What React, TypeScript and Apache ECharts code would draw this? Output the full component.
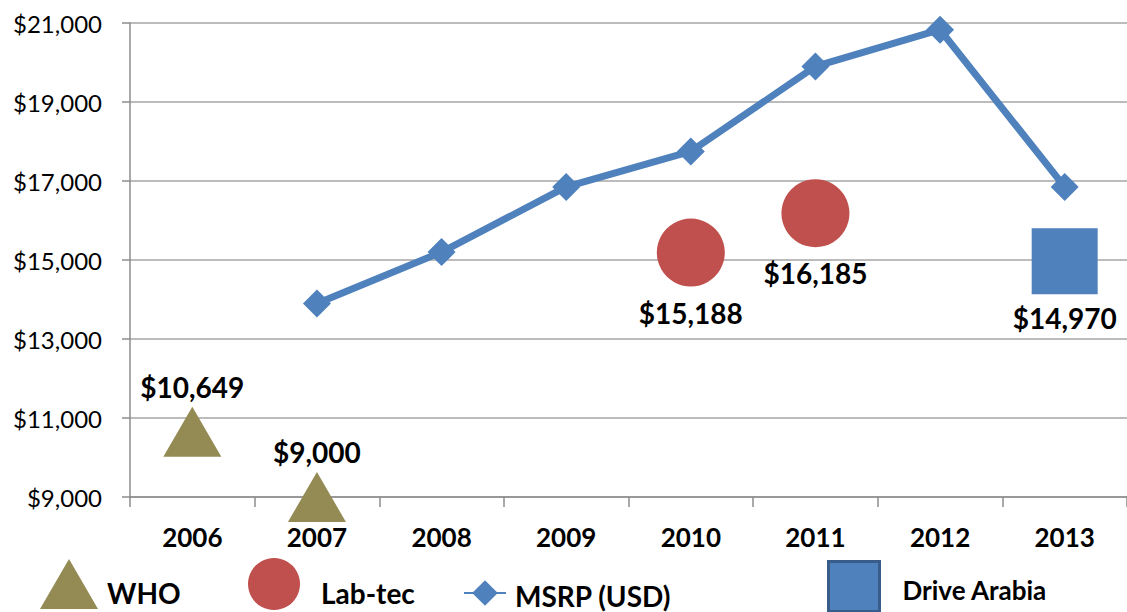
import React, { useEffect, useRef } from "react";
import * as echarts from "echarts";

const years = ["2006", "2007", "2008", "2009", "2010", "2011", "2012", "2013"];
const msrp = [null, 13900, 15200, 16850, 17750, 19900, 20830, 16850];
const who = [10649, 9000, null, null, null, null, null, null];
const labtec = [null, null, null, null, 15188, 16185, null, null];
const driveArabia = [null, null, null, null, null, null, null, 14970];
const yTicks = { min: 9000, max: 21000, interval: 2000 };

const FONT = "Lato, 'Open Sans', sans-serif";
const fmt = (v: number) => "$" + v.toLocaleString("en-US");

export default function App() {
  const ref = useRef<HTMLDivElement>(null);
  useEffect(() => {
    if (!ref.current) return;
    const chart = echarts.init(ref.current, null, { renderer: "svg" });
    const dataLabel = (pos: string, dist: number) => ({
      show: true,
      position: pos,
      distance: dist,
      color: "#000",
      fontFamily: FONT,
      fontWeight: "bold",
      fontSize: 28,
      formatter: (p: any) => fmt(p.value),
    });
    // text is pushed down by lineHeight/2 through an empty first line
    const legendText = (size: number, shiftLH: number, padLeft: number) => ({
      color: "#000",
      fontFamily: FONT,
      fontWeight: "bold",
      fontSize: size,
      lineHeight: shiftLH,
      padding: [0, 0, 0, padLeft],
    });
    const lower = (name: string) => "\n" + name;
    chart.setOption({
      animation: false,
      backgroundColor: "#fff",
      grid: { left: 130, top: 23, width: 1004, height: 474 },
      xAxis: {
        type: "category",
        data: years,
        boundaryGap: true,
        axisLine: { show: true, lineStyle: { color: "#8c8c8c", width: 1.5 } },
        axisTick: { show: true, length: 10, lineStyle: { color: "#8c8c8c", width: 1.5 } },
        axisLabel: {
          color: "#000",
          fontFamily: FONT,
          fontWeight: "bold",
          fontSize: 26,
          margin: 27,
        },
        splitLine: { show: false },
      },
      yAxis: {
        type: "value",
        min: yTicks.min,
        max: yTicks.max,
        interval: yTicks.interval,
        axisLine: { show: true, lineStyle: { color: "#8c8c8c", width: 1.5 } },
        axisTick: { show: true, length: 8, lineStyle: { color: "#8c8c8c", width: 1.5 } },
        axisLabel: {
          color: "#000",
          fontFamily: FONT,
          fontSize: 24,
          margin: 28,
          formatter: (v: number) => fmt(v),
        },
        splitLine: { show: true, lineStyle: { color: "#a6a6a6", width: 1.5 } },
      },
      legend: [
        {
          data: ["WHO"],
          left: 40,
          top: 559,
          padding: 0,
          itemWidth: 58,
          itemHeight: 50,
          formatter: lower,
          textStyle: legendText(28, 18, 4),
        },
        {
          data: ["Lab-tec"],
          left: 248,
          top: 558,
          padding: 0,
          itemWidth: 52,
          itemHeight: 52,
          formatter: lower,
          textStyle: legendText(28, 18, 16),
        },
        {
          data: ["MSRP (USD)"],
          left: 463,
          top: 576,
          padding: 0,
          itemWidth: 42,
          itemHeight: 32,
          formatter: lower,
          textStyle: legendText(28, 6, 4),
        },
        {
          data: [
            {
              name: "Drive Arabia",
              itemStyle: { borderColor: "#385d8a", borderWidth: 3 },
            },
          ],
          left: 827,
          top: 560,
          padding: 0,
          itemWidth: 51,
          itemHeight: 50,
          formatter: lower,
          textStyle: legendText(26, 6, 18),
        },
      ],
      series: [
        {
          name: "MSRP (USD)",
          type: "line",
          data: msrp,
          connectNulls: false,
          symbol: "diamond",
          symbolSize: 28,
          lineStyle: { color: "#4f81bd", width: 7 },
          itemStyle: { color: "#4f81bd", opacity: 1 },
          z: 3,
        },
        {
          name: "WHO",
          type: "scatter",
          data: who,
          symbol: "triangle",
          symbolSize: [58, 50],
          itemStyle: { color: "#948a54", opacity: 1 },
          label: dataLabel("top", 6),
        },
        {
          name: "Lab-tec",
          type: "scatter",
          data: labtec,
          symbol: "circle",
          symbolSize: 68,
          itemStyle: { color: "#c0504d", opacity: 1 },
          label: dataLabel("bottom", 12),
        },
        {
          name: "Drive Arabia",
          type: "scatter",
          data: driveArabia,
          symbol: "rect",
          symbolSize: 66,
          itemStyle: { color: "#4f81bd", opacity: 1 },
          label: dataLabel("bottom", 10),
        },
      ],
    });
    return () => chart.dispose();
  }, []);
  return (
    <div
      ref={ref}
      style={{ position: "absolute", left: 0, top: 0, width: 1127, height: 612 }}
    />
  );
}
